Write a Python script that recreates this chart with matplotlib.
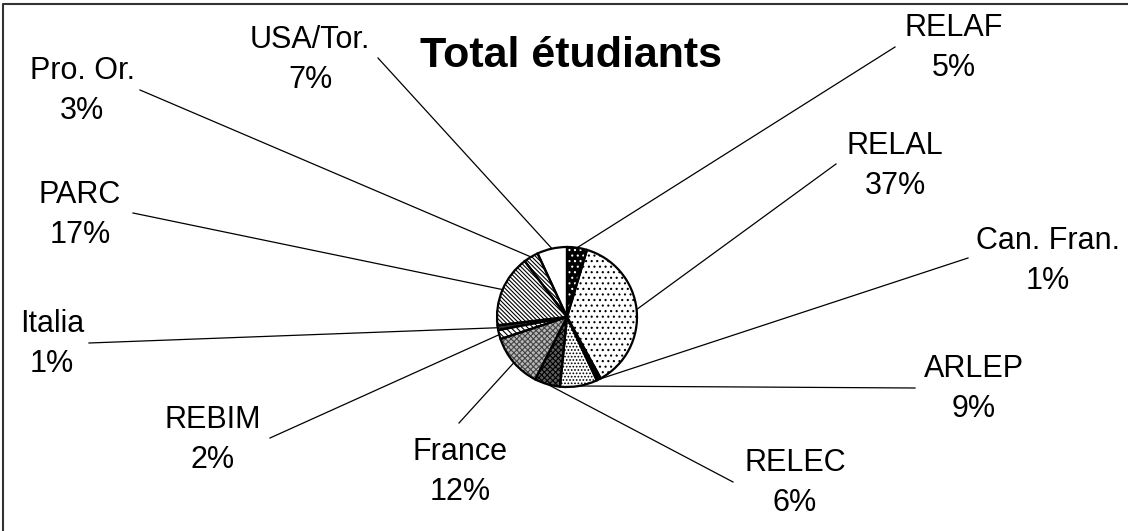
import numpy as np
import matplotlib.pyplot as plt
from matplotlib.patches import Wedge

plt.rcParams['font.family'] = ['Liberation Sans', 'DejaVu Sans']
plt.rcParams['hatch.linewidth'] = 0.8

# data (shares of students, %), clockwise from 12 o'clock
regions = ["RELAF", "RELAL", "Can. Fran.", "ARLEP", "RELEC", "France",
           "REBIM", "Italia", "PARC", "Pro. Or.", "USA/Tor."]
shares = [4.6, 37.4, 1.0, 8.6, 5.9, 12.4, 2.1, 1.1, 16.6, 3.4, 6.9]
title = "Total étudiants"

# fill styles: face colour, hatch, hatch colour
styles = {
    "RELAF": ("black", "...", "white"),
    "RELAL": ("white", "...", "black"),
    "Can. Fran.": ("black", None, None),
    "ARLEP": ("white", ".....", "black"),
    "RELEC": ("#606060", "xxxxxx", "black"),
    "France": ("#b8b8b8", "xxxxxx", "#444444"),
    "REBIM": ("white", "\\" * 6, "black"),
    "Italia": ("#303030", None, None),
    "PARC": ("white", "\\" * 8, "black"),
    "Pro. Or.": ("white", "\\" * 8, "black"),
    "USA/Tor.": ("white", None, None),
}

# layout in image pixels (y measured from top)
W, H = 1128, 531
pie_center = (567, 317)
pie_radius = 70
label_xy = {
    "RELAF": (954, 48), "RELAL": (895, 166), "Can. Fran.": (1048, 261),
    "ARLEP": (974, 389), "RELEC": (795, 483), "France": (460, 472),
    "REBIM": (213, 440), "Italia": (52, 344), "PARC": (80, 215),
    "Pro. Or.": (82, 91), "USA/Tor.": (310, 60),
}
leader_xy = {
    "RELAF": (895, 47), "RELAL": (836, 164), "Can. Fran.": (968, 258),
    "ARLEP": (915, 388), "RELEC": (733, 482), "France": (459, 423),
    "REBIM": (270, 438), "Italia": (89, 343), "PARC": (133, 213),
    "Pro. Or.": (140, 90), "USA/Tor.": (378, 58),
}

fig = plt.figure(figsize=(W / 100, H / 100), dpi=100)
ax = fig.add_axes([0, 0, 1, 1])

cx, cy = pie_center[0], H - pie_center[1]
wedges, _ = ax.pie(shares, startangle=90, counterclock=False,
                   center=(cx, cy), radius=pie_radius,
                   colors=[styles[r][0] for r in regions],
                   wedgeprops=dict(linewidth=0))

for w, name in zip(wedges, regions):
    face, hatch, hcol = styles[name]
    if hatch:
        ax.add_patch(Wedge(w.center, w.r, w.theta1, w.theta2, fill=False,
                           hatch=hatch, edgecolor=hcol, linewidth=0))
    ax.add_patch(Wedge(w.center, w.r, w.theta1, w.theta2, fill=False,
                       edgecolor="black", linewidth=1.6))
    mid = np.deg2rad((w.theta1 + w.theta2) / 2)
    px = cx + w.r * np.cos(mid)
    py = cy + w.r * np.sin(mid)
    lx, ly = leader_xy[name]
    ax.plot([lx, px], [H - ly, py], color="black", linewidth=0.9)
    tx, ty = label_xy[name]
    share = shares[regions.index(name)]
    ax.text(tx, H - ty, f"{name}\n{round(share)}%", ha="center", va="center",
            fontsize=22, linespacing=1.45)

ax.text(571, H - 56, title, ha="center", va="center", fontsize=31,
        fontweight="bold")

# frame: only top and left edges are visible in the original
ax.plot([3, 3, W], [0, H - 4, H - 4], color="#333333", linewidth=1.5)

ax.set_xlim(0, W)
ax.set_ylim(0, H)
ax.set_aspect("equal")
ax.axis("off")

fig.savefig("out.png", dpi=100, facecolor="white")
